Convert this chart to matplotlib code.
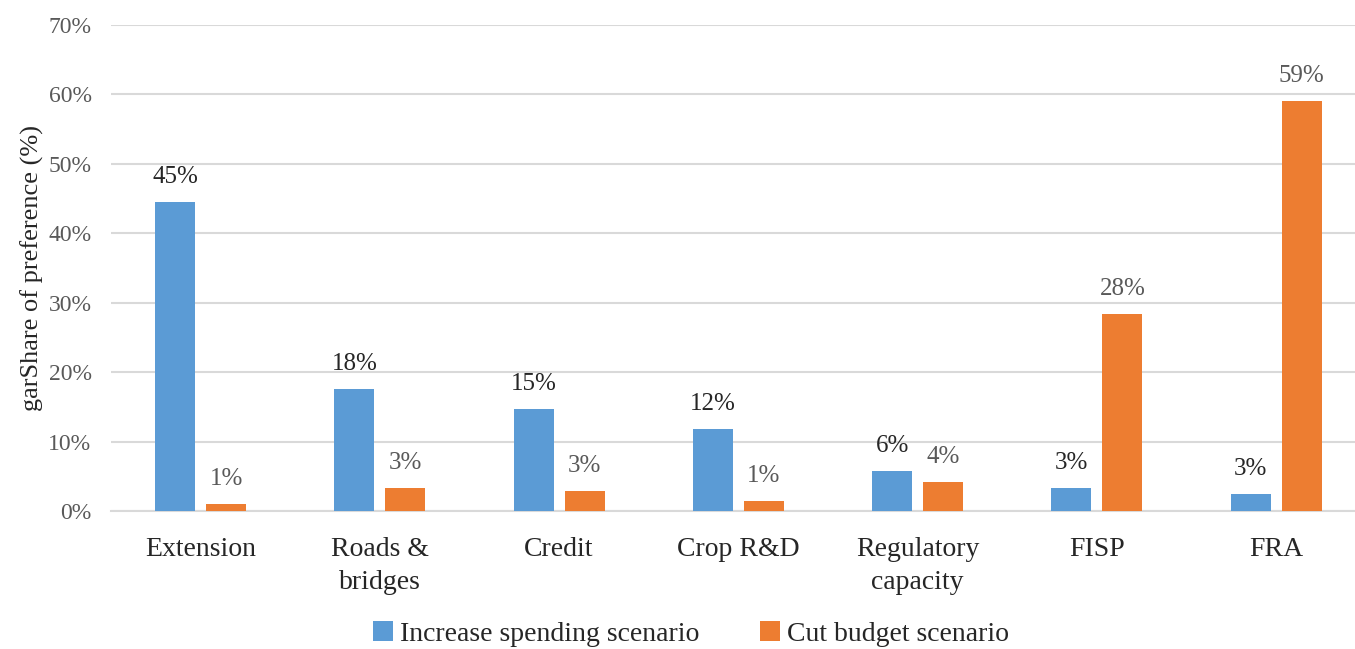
import numpy as np
import matplotlib.pyplot as plt

# values (share, %)
categories = ['Extension', 'Roads &\nbridges', 'Credit', 'Crop R&D',
              'Regulatory\ncapacity', 'FISP', 'FRA']
increase = [44.5, 17.6, 14.7, 11.8, 5.8, 3.3, 2.5]
cut = [1.0, 3.3, 2.9, 1.4, 4.2, 28.4, 59.1]
increase_labels = ['45%', '18%', '15%', '12%', '6%', '3%', '3%']
cut_labels = ['1%', '3%', '3%', '1%', '4%', '28%', '59%']
yticks = [0, 10, 20, 30, 40, 50, 60, 70]

plt.rcParams['font.family'] = ['Liberation Serif', 'DejaVu Serif']

blue = '#5b9bd5'
orange = '#ed7d31'

fig = plt.figure(figsize=(13.55, 6.49), dpi=100)
ax = fig.add_axes([0.0819, 0.2126, 0.9181, 0.7489])

x = np.arange(len(categories))
w = 0.223
off = 0.142
b1 = ax.bar(x - off, increase, w, color=blue, label='Increase spending scenario', zorder=3)
b2 = ax.bar(x + off, cut, w, color=orange, label='Cut budget scenario', zorder=3)

for rect, lab in zip(b1, increase_labels):
    ax.text(rect.get_x() + rect.get_width() / 2, rect.get_height() + 2.0, lab,
            ha='center', va='bottom', fontsize=18, color='#262626')
for rect, lab in zip(b2, cut_labels):
    ax.text(rect.get_x() + rect.get_width() / 2, rect.get_height() + 2.0, lab,
            ha='center', va='bottom', fontsize=18, color='#595959')

ax.set_xlim(-0.5, 6.44)
ax.set_ylim(0, 70)
ax.set_yticks(yticks)
ax.set_yticklabels([f'{t}%' for t in yticks], fontsize=17, color='#595959')
ax.set_xticks(x)
ax.set_xticklabels(categories, fontsize=20, color='#262626', linespacing=1.4)
ax.tick_params(axis='both', length=0)
ax.tick_params(axis='x', pad=19)
ax.tick_params(axis='y', pad=14)

ax.grid(axis='y', color='#d9d9d9', linewidth=1.5, zorder=0)
for s in ['top', 'right', 'left']:
    ax.spines[s].set_visible(False)
ax.spines['bottom'].set_color('#d9d9d9')
ax.spines['bottom'].set_linewidth(1.5)

ax.set_ylabel('garShare of preference (%)', fontsize=19, color='#262626', labelpad=3)

fig.legend(handles=[b1, b2], loc='lower center', bbox_to_anchor=(0.51, -0.035),
           ncol=2, frameon=False, fontsize=20, handlelength=0.7, handleheight=0.7,
           handletextpad=0.25, columnspacing=2.2, labelcolor='#262626')

fig.savefig('out.png', dpi=100)
